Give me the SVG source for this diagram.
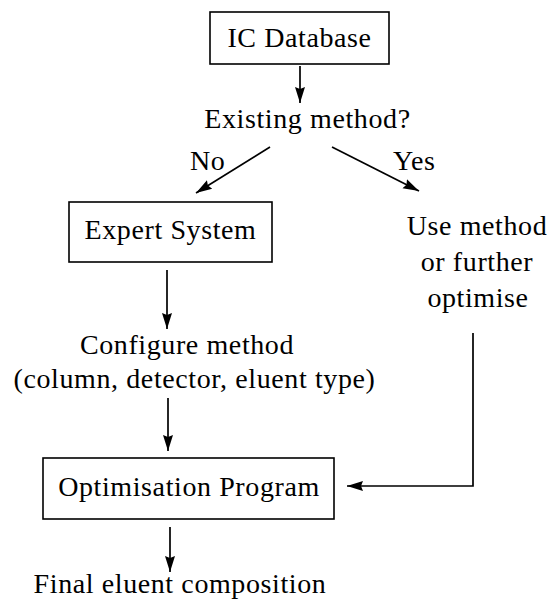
<svg xmlns="http://www.w3.org/2000/svg" width="551" height="605" viewBox="0 0 551 605">
  <defs>
    <marker id="arrow" markerUnits="userSpaceOnUse" markerWidth="16" markerHeight="12" viewBox="0 0 16 12" refX="16" refY="6" orient="auto">
      <path d="M0,1 L16,6 L0,11 L2,6 Z" fill="#000000"/>
    </marker>
  </defs>
  <rect width="551" height="605" fill="#ffffff"/>

  <!-- boxed nodes share one outline style -->
  <g fill="#ffffff" stroke="#000000" stroke-width="1.6">
    <rect id="ic-database-box" x="210" y="12" width="179" height="52"/>
    <rect id="expert-system-box" x="69" y="202" width="203" height="60"/>
    <rect id="optimisation-program-box" x="43" y="458" width="291" height="61"/>
  </g>

  <g fill="#000000" letter-spacing="0.6">
    <g id="ic-database">
      <text x="299.5" y="47" text-anchor="middle" font-family="Liberation Serif" font-size="28">IC Database</text>
    </g>
    <g id="existing-method">
      <text x="307.5" y="128" text-anchor="middle" font-family="Liberation Serif" font-size="28">Existing method?</text>
    </g>
    <g id="branch-labels">
      <text x="190" y="170" font-family="Liberation Serif" font-size="28">No</text>
      <text x="393" y="170" font-family="Liberation Serif" font-size="28">Yes</text>
    </g>
    <g id="expert-system">
      <text x="170.5" y="239" text-anchor="middle" font-family="Liberation Serif" font-size="28">Expert System</text>
    </g>
    <g id="use-method">
      <text x="477" y="235" text-anchor="middle" font-family="Liberation Serif" font-size="28">Use method</text>
      <text x="477" y="271" text-anchor="middle" font-family="Liberation Serif" font-size="28">or further</text>
      <text x="478" y="307" text-anchor="middle" font-family="Liberation Serif" font-size="28">optimise</text>
    </g>
    <g id="configure-method">
      <text x="187" y="354" text-anchor="middle" font-family="Liberation Serif" font-size="28">Configure method</text>
      <text x="194.5" y="388" text-anchor="middle" font-family="Liberation Serif" font-size="28">(column, detector, eluent type)</text>
    </g>
    <g id="optimisation-program">
      <text x="189" y="496" text-anchor="middle" font-family="Liberation Serif" font-size="28">Optimisation Program</text>
    </g>
    <g id="final-composition">
      <text x="180" y="593" text-anchor="middle" font-family="Liberation Serif" font-size="28">Final eluent composition</text>
    </g>
  </g>

  <g id="connectors" fill="none" stroke="#000000" stroke-width="1.7" marker-end="url(#arrow)">
    <line x1="300" y1="66" x2="300" y2="103"/>
    <line x1="270" y1="147" x2="196" y2="193"/>
    <line x1="332" y1="147" x2="419" y2="191"/>
    <line x1="167" y1="270" x2="167" y2="329"/>
    <line x1="168" y1="398" x2="168" y2="451"/>
    <polyline points="473,333 473,486 347,486"/>
    <line x1="170" y1="527" x2="170" y2="572"/>
  </g>
</svg>
